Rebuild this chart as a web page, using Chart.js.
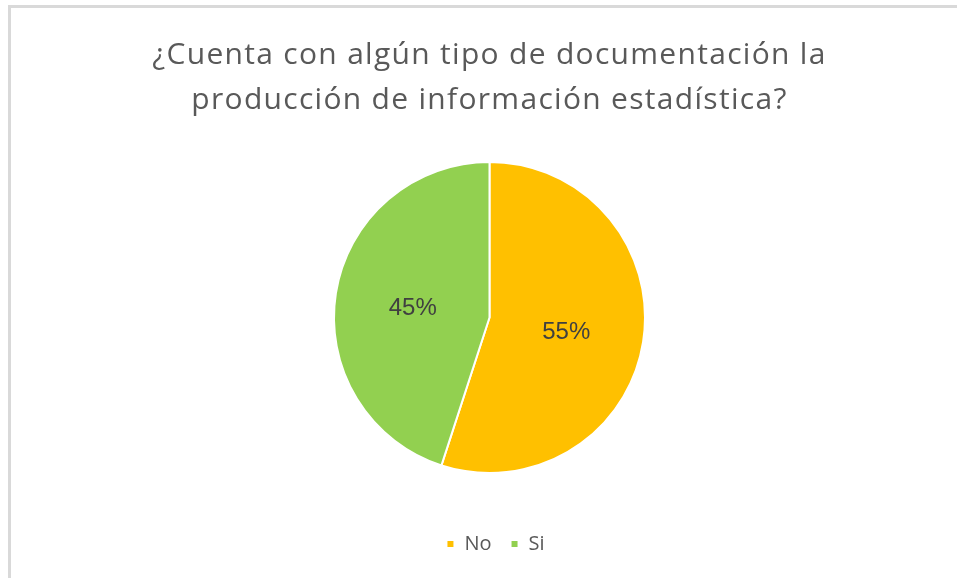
<!DOCTYPE html>
<html>
<head>
<meta charset="utf-8">
<script src="https://cdn.jsdelivr.net/npm/chart.js@4"></script>
<style>
    html, body { margin: 0; padding: 0; background: #fff; overflow: hidden; }
    #frame {
        position: absolute; left: 8px; top: 5px; width: 1000px; height: 700px;
        border-left: 3px solid #d9d9d9; border-top: 3px solid #d9d9d9;
    }
    #box { position: absolute; left: 0; top: 0; width: 957px; height: 578px; }
</style>
</head>
<body>
<div id="frame"></div>
<div id="box"><canvas id="pie"></canvas></div>
<script>
var categories = ['No', 'Si'];
var shares = [55, 45];
var colours = ['#FFC000', '#92D050'];
var titleLines = ['¿Cuenta con algún tipo de documentación la', 'producción de información estadística?'];

// wider tracking for the title only, legend nudged a little right
var tweaks = {
    id: 'tweaks',
    afterLayout: function (chart) {
        chart.legend.left += 6;
        chart.legend.right += 6;
    },
    beforeDraw: function (chart) {
        var block = chart.titleBlock;
        if (block && !block._spaced) {
            var draw = block.draw;
            block.draw = function () {
                chart.ctx.letterSpacing = '1.3px';
                draw.apply(this, arguments);
                chart.ctx.letterSpacing = '0px';
            };
            block._spaced = true;
        }
    }
};

// draws the percent in the middle of each slice
var sliceLabels = {
    id: 'sliceLabels',
    afterDatasetsDraw: function (chart) {
        var ctx = chart.ctx;
        var meta = chart.getDatasetMeta(0);
        ctx.save();
        ctx.font = '24px "Liberation Sans", Arial, sans-serif';
        ctx.fillStyle = '#404040';
        ctx.textAlign = 'center';
        ctx.textBaseline = 'middle';
        meta.data.forEach(function (arc, i) {
            var p = arc.getCenterPoint();
            ctx.fillText(shares[i] + '%', p.x, p.y + 3);
        });
        ctx.restore();
    }
};

window.addEventListener('load', function () {
    var ctx = document.getElementById('pie').getContext('2d');
    new Chart(ctx, {
        type: 'pie',
        data: {
            labels: categories,
            datasets: [{
                data: shares,
                backgroundColor: colours,
                borderColor: '#ffffff',
                borderWidth: 2
            }]
        },
        options: {
            responsive: true,
            maintainAspectRatio: false,
            animation: false,
            layout: { padding: { top: 33, left: 22, right: 0, bottom: 14 } },
            plugins: {
                title: {
                    display: true,
                    text: titleLines,
                    color: '#595959',
                    font: { family: '"Open Sans"', size: 30, weight: 'normal', lineHeight: 1.5 },
                    padding: { top: 0, bottom: 38 }
                },
                legend: {
                    display: true,
                    position: 'bottom',
                    title: {
                        display: true,
                        text: '',
                        font: { size: 1, lineHeight: 1 },
                        padding: { top: 40, bottom: 0 }
                    },
                    labels: {
                        boxWidth: 8,
                        boxHeight: 8,
                        padding: 19,
                        color: '#595959',
                        font: { family: '"Open Sans"', size: 20 }
                    }
                },
                tooltip: { enabled: false }
            }
        },
        plugins: [tweaks, sliceLabels]
    });
});
</script>
</body>
</html>
